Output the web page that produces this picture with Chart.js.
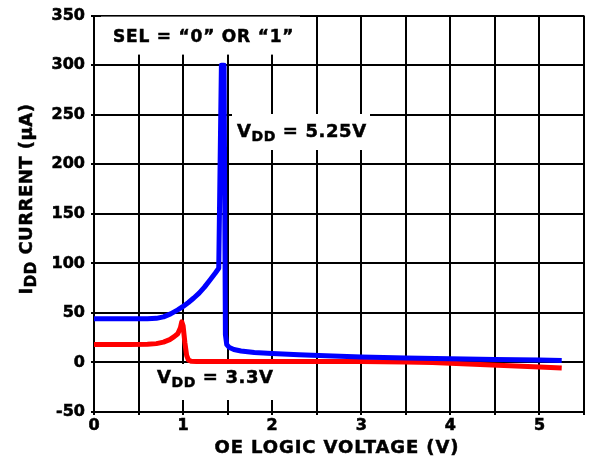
<!DOCTYPE html>
<html>
<head>
<meta charset="utf-8">
<script src="https://cdn.jsdelivr.net/npm/chart.js@4.4.1/dist/chart.umd.min.js"></script>
<style>
  html, body { margin: 0; padding: 0; background: #fff; }
  #wrap { width: 589px; height: 460px; position: relative; }
</style>
</head>
<body>
<div id="wrap"><canvas id="c"></canvas></div>
<script>
// Supply current vs. OE logic voltage, two supply voltages
const vdd525Volts = [0, 0.3, 0.6, 0.7, 0.78, 0.86, 0.94, 1.0, 1.06, 1.12, 1.18, 1.24, 1.30, 1.36, 1.40, 1.43, 1.46, 1.475, 1.49, 1.52, 1.57, 1.65, 1.8, 2.0, 2.3, 2.6, 3.0, 3.5, 4.0, 4.5, 5.0, 5.25];
const vdd525Current = [44, 44, 44, 44.5, 46, 49, 53, 56.5, 60.5, 65, 70, 76, 83, 90, 95, 300, 300, 28, 18, 15, 13, 11.5, 10, 9, 7.8, 6.8, 5.5, 4.5, 3.7, 3, 2.5, 2];

const vdd33Volts = [0, 0.4, 0.6, 0.7, 0.78, 0.85, 0.9, 0.94, 0.97, 0.985, 1.0, 1.02, 1.04, 1.06, 1.09, 1.15, 1.5, 2, 2.5, 3, 3.5, 3.8, 4.2, 4.6, 5.0, 5.25];
const vdd33Current = [18, 18, 18.3, 19, 20.5, 23, 26, 29, 35, 41, 37, 20, 7, 2.5, 1.2, 1, 1, 1, 1, 1, 0.5, 0, -1.5, -3, -4.5, -5.5];

const xTickValues = [0, 1, 2, 3, 4, 5];
const yTickValues = [-50, 0, 50, 100, 150, 200, 250, 300, 350];

const FONT = '"DejaVu Sans", Verdana, sans-serif';

function toPoints(xs, ys) {
  return xs.map((x, i) => ({ x: x, y: ys[i] }));
}

// Filled text with a thin outline so it reads a little heavier
function heavyText(ctx, text, x, y) {
  ctx.fillText(text, x, y);
  ctx.strokeText(text, x, y);
}

// Draws a label with a "DD" subscript after the leading letter
function drawSubLabel(ctx, x, y, main, sub, rest, size, subSize, drop) {
  ctx.font = 'bold ' + size + 'px ' + FONT;
  heavyText(ctx, main, x, y);
  x += ctx.measureText(main).width;
  ctx.font = 'bold ' + subSize + 'px ' + FONT;
  heavyText(ctx, sub, x, y + drop);
  x += ctx.measureText(sub).width;
  ctx.font = 'bold ' + size + 'px ' + FONT;
  heavyText(ctx, rest, x, y);
}

function subLabelWidth(ctx, main, sub, rest, size, subSize) {
  ctx.font = 'bold ' + size + 'px ' + FONT;
  let w = ctx.measureText(main).width + ctx.measureText(rest).width;
  ctx.font = 'bold ' + subSize + 'px ' + FONT;
  return w + ctx.measureText(sub).width;
}

const annotations = {
  id: 'annotations',
  afterDraw(chart) {
    const ctx = chart.ctx;
    const area = chart.chartArea;
    ctx.save();
    ctx.textBaseline = 'alphabetic';
    ctx.textAlign = 'left';

    // text boxes on white backgrounds
    ctx.fillStyle = '#fff';
    ctx.fillRect(101, area.top + 1, 199, 38);
    ctx.fillRect(232, 114, 138, 36);
    ctx.fillRect(150, 364, 128, 36);

    ctx.fillStyle = '#000';
    ctx.strokeStyle = '#000';
    ctx.lineWidth = 0.5;
    ctx.letterSpacing = '0.8px';
    ctx.font = 'bold 17px ' + FONT;
    heavyText(ctx, 'SEL = \u201C0\u201D OR \u201C1\u201D', 113, 42);

    ctx.letterSpacing = '0.6px';
    drawSubLabel(ctx, 237, 137, 'V', 'DD', ' = 5.25V', 18, 14, 4);
    drawSubLabel(ctx, 157, 383, 'V', 'DD', ' = 3.3V', 18, 14, 4);

    // x axis title
    ctx.letterSpacing = '0.9px';
    ctx.font = 'bold 18px ' + FONT;
    ctx.textAlign = 'center';
    heavyText(ctx, 'OE LOGIC VOLTAGE (V)', (area.left + area.right) / 2 - 2, 453);

    // y axis title, rotated
    ctx.textAlign = 'left';
    ctx.letterSpacing = '0.5px';
    const w = subLabelWidth(ctx, 'I', 'DD', ' CURRENT (\u00B5A)', 18, 15);
    ctx.translate(32, 199);
    ctx.rotate(-Math.PI / 2);
    drawSubLabel(ctx, -w / 2, 0, 'I', 'DD', ' CURRENT (\u00B5A)', 18, 15, 4);
    ctx.restore();
  }
};

new Chart(document.getElementById('c'), {
  type: 'scatter',
  data: {
    datasets: [
      {
        label: 'VDD = 3.3V',
        data: toPoints(vdd33Volts, vdd33Current),
        showLine: true,
        borderColor: '#ff0000',
        backgroundColor: '#ff0000',
        borderWidth: 5,
        pointRadius: 0,
        tension: 0,
        borderCapStyle: 'butt',
        borderJoinStyle: 'round',
        order: 2
      },
      {
        label: 'VDD = 5.25V',
        data: toPoints(vdd525Volts, vdd525Current),
        showLine: true,
        borderColor: '#0000ff',
        backgroundColor: '#0000ff',
        borderWidth: 5,
        pointRadius: 0,
        tension: 0,
        borderCapStyle: 'butt',
        borderJoinStyle: 'round',
        order: 1
      }
    ]
  },
  options: {
    responsive: true,
    maintainAspectRatio: false,
    animation: false,
    layout: { padding: { left: 0, right: 5, top: 15, bottom: 0 } },
    plugins: {
      legend: { display: false },
      tooltip: { enabled: false }
    },
    scales: {
      x: {
        type: 'linear',
        min: 0,
        max: 5.5,
        afterFit(scale) { scale.height = 48; },
        afterBuildTicks(scale) {
          const t = [];
          for (let v = 0; v <= 5.5001; v += 0.5) t.push({ value: Math.round(v * 10) / 10 });
          scale.ticks = t;
        },
        ticks: {
          color: '#000',
          font: { family: FONT, size: 16, weight: 'bold' },
          textStrokeColor: '#000',
          textStrokeWidth: 0.6,
          padding: 1,
          maxRotation: 0,
          autoSkip: false,
          callback: (v) => xTickValues.includes(v) ? String(v) : ''
        },
        grid: { color: '#000', lineWidth: 2, tickLength: 3 },
        border: { color: '#000', width: 2 }
      },
      y: {
        type: 'linear',
        min: -50,
        max: 350,
        afterFit(scale) { scale.width = 94; },
        afterBuildTicks(scale) {
          scale.ticks = yTickValues.map(v => ({ value: v }));
        },
        ticks: {
          color: '#000',
          font: { family: FONT, size: 16, weight: 'bold' },
          textStrokeColor: '#000',
          textStrokeWidth: 0.6,
          padding: 6,
          callback: (v) => String(v)
        },
        grid: { color: '#000', lineWidth: 2, tickLength: 3 },
        border: { color: '#000', width: 2 }
      }
    }
  },
  plugins: [annotations]
});
</script>
</body>
</html>
